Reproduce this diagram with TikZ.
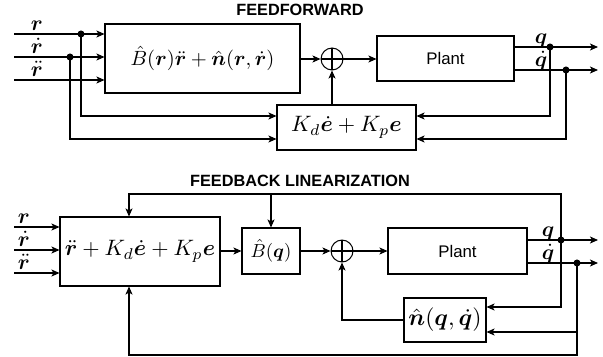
\documentclass[tikz,border=0pt]{standalone}
\usepackage{amsmath,bm,graphicx}
\usepackage{fontspec}
\newfontfamily\lsans{Liberation Sans}
\usetikzlibrary{arrows.meta,calc}
\newcommand{\bv}[1]{\boldsymbol{#1}}
\newcommand{\mth}[2]{\scalebox{#1}{$#2$}}
\newcommand{\pxu}{0.583pt}
\begin{document}
\begin{tikzpicture}[x=0.583pt,y=-0.583pt,
  line width=0.6pt,
  >={Stealth[length=4.7pt,width=4.1pt,inset=1.2pt]},
  blk/.style={draw, line width=0.6pt, inner sep=0pt},
  plantfont/.style={font=\lsans\fontsize{9.8}{11}\selectfont},
  sumnode/.style={draw, circle, minimum size=12.8pt, inner sep=0pt},
  dotnode/.style={circle, fill, minimum size=4.1pt, inner sep=0pt},
  ttl/.style={font=\lsans\bfseries\fontsize{9.5}{11}\selectfont},
  lbl/.style={inner sep=0pt, anchor=base},
  conn/.style={->}
]
\useasboundingbox (0,0) rectangle (603,356);

% ===== FEEDFORWARD =====
\node[ttl] (t1) at (300,10) {FEEDFORWARD};
\node[blk, minimum width=195*\pxu, minimum height=69*\pxu] (B1) at (202.5,58.5) {\mth{1.2}{\hat{B}(\bv r)\ddot{\bv r}+\hat{\bv n}(\bv r,\dot{\bv r})}};
\node[blk, minimum width=139*\pxu, minimum height=45*\pxu] (KD) at (346.5,127.5) {\mth{1.3}{K_d\dot{\bv e}+K_p\bv e}};
\node[sumnode] (S1) at (332,59) {};
\draw (S1.north) -- (S1.south) (S1.west) -- (S1.east);
\node[blk, plantfont, minimum width=137*\pxu, minimum height=45*\pxu] (P1) at (445.5,58.5) {Plant};

\coordinate (i1) at (14,34);
\coordinate (i2) at (14,57);
\coordinate (i3) at (14,80);
\node[dotnode] (j1) at (81,34) {};
\node[dotnode] (j2) at (70,57) {};
\draw[conn] (i1) -- (B1.west |- i1);
\draw[conn] (i2) -- (B1.west |- i2);
\draw[conn] (i3) -- (B1.west |- i3);
\coordinate (k1) at (0,116);
\coordinate (k2) at (0,139);
\draw[conn] (j1.center) |- (KD.west |- k1);
\draw[conn] (j2.center) |- (KD.west |- k2);
\node[lbl] (lr1) at (37,30) {\mth{1.25}{\bv r}};
\node[lbl] (lr2) at (37,53) {\mth{1.25}{\dot{\bv r}}};
\node[lbl] (lr3) at (37,76) {\mth{1.25}{\ddot{\bv r}}};

\draw[conn] (B1.east |- S1) -- (S1.west);
\draw[conn] (KD.north -| S1) -- (S1.south);
\draw[conn] (S1.east) -- (P1.west |- S1);

\coordinate (o1) at (598,47);
\coordinate (o2) at (598,70);
\draw[conn] (P1.east |- o1) -- (o1);
\draw[conn] (P1.east |- o2) -- (o2);
\node[dotnode] (jq1) at (550,47) {};
\node[dotnode] (jqd1) at (566,70) {};
\draw[conn] (jq1.center) |- (KD.east |- k1);
\draw[conn] (jqd1.center) |- (KD.east |- k2);
\node[lbl] (lq1) at (541,43) {\mth{1.25}{\bv q}};
\node[lbl] (lqd1) at (541,66) {\mth{1.25}{\dot{\bv q}}};

% ===== FEEDBACK LINEARIZATION =====
\node[ttl] (t2) at (300,181) {FEEDBACK LINEARIZATION};
\node[blk, minimum width=160*\pxu, minimum height=69*\pxu] (A) at (140,251.5) {\mth{1.3}{\ddot{\bv r}+K_d\dot{\bv e}+K_p\bv e}};
\node[blk, minimum width=58*\pxu, minimum height=46*\pxu] (BQ) at (271,251) {\mth{1.1}{\hat{B}(\bv q)}};
\node[sumnode] (S2) at (342,251) {};
\draw (S2.north) -- (S2.south) (S2.west) -- (S2.east);
\node[blk, plantfont, minimum width=139*\pxu, minimum height=46*\pxu] (P2) at (457.5,251) {Plant};
\node[blk, minimum width=82*\pxu, minimum height=44*\pxu] (NQ) at (445,320) {\mth{1.38}{\hat{\bv n}(\bv q,\dot{\bv q})}};

\coordinate (m1) at (14,227);
\coordinate (m2) at (14,250);
\coordinate (m3) at (14,273);
\draw[conn] (m1) -- (A.west |- m1);
\draw[conn] (m2) -- (A.west |- m2);
\draw[conn] (m3) -- (A.west |- m3);
\node[lbl] (lr4) at (24,223) {\mth{1.25}{\bv r}};
\node[lbl] (lr5) at (24,246) {\mth{1.25}{\dot{\bv r}}};
\node[lbl] (lr6) at (24,269) {\mth{1.25}{\ddot{\bv r}}};

\draw[conn] (A.east |- BQ) -- (BQ.west);
\draw[conn] (BQ.east) -- (S2.west);
\draw[conn] (S2.east) -- (P2.west);

\coordinate (o3) at (598,240);
\coordinate (o4) at (598,263);
\draw[conn] (P2.east |- o3) -- (o3);
\draw[conn] (P2.east |- o4) -- (o4);
\node[dotnode] (jq2) at (561,240) {};
\node[dotnode] (jqd2) at (577,263) {};
\node[lbl] (lq2) at (548,236) {\mth{1.25}{\bv q}};
\node[lbl] (lqd2) at (548,259) {\mth{1.25}{\dot{\bv q}}};

\coordinate (top) at (129,194);
\coordinate (bq) at (271,194);
\draw[conn] (jq2.center) |- (top) -- (A.north -| top);
\draw[conn] (bq) -- (BQ.north);
\coordinate (n1) at (0,307);
\coordinate (n2) at (0,332);
\coordinate (bot) at (129,355);
\draw[conn] (jq2.center) |- (NQ.east |- n1);
\draw[conn] (jqd2.center) |- (bot) -- (A.south -| bot);
\draw[conn] (jqd2 |- n2) -- (NQ.east |- n2);
\draw[conn] (NQ.west) -| (S2.south);
\end{tikzpicture}
\end{document}
